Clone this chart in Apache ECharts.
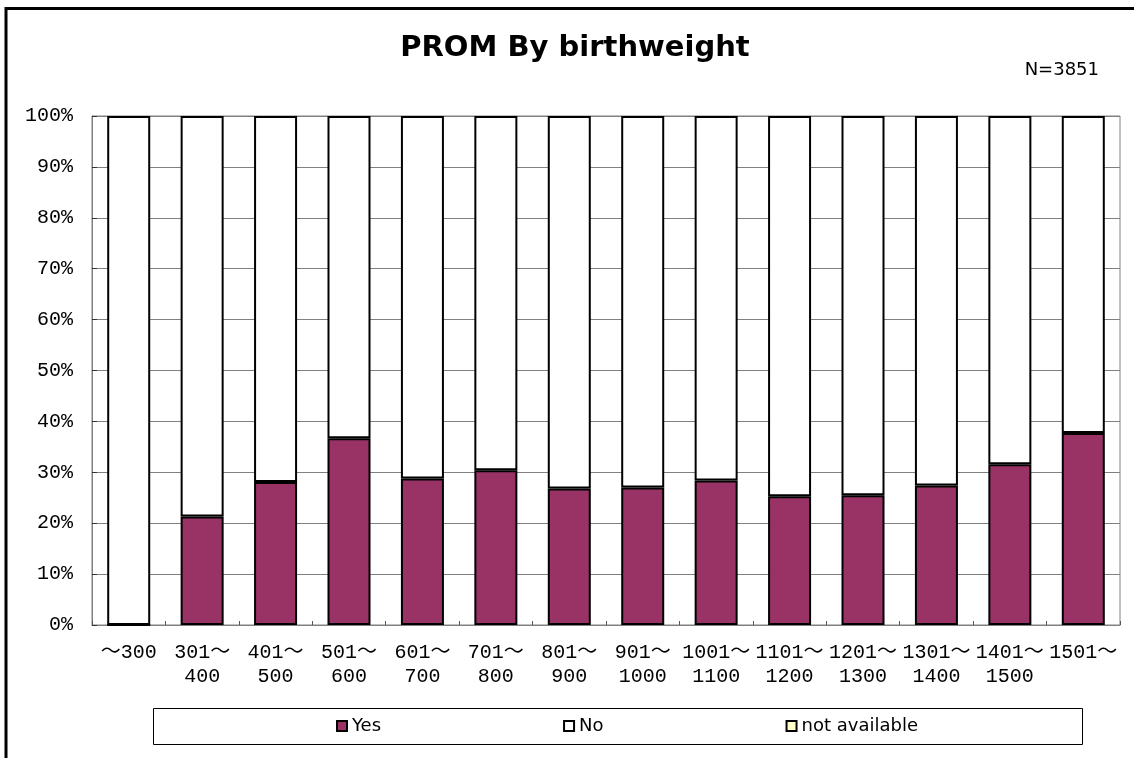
<!DOCTYPE html>
<html>
<head>
<meta charset="utf-8">
<script src="https://cdn.jsdelivr.net/npm/echarts@6/dist/echarts.min.js"></script>
<style>
html,body{margin:0;padding:0;background:#fff;}
#chart{width:1134px;height:758px;}
</style>
</head>
<body>
<div id="chart"></div>
<script>
const categories = ['～300','301～\n400','401～\n500','501～\n600','601～\n700','701～\n800','801～\n900','901～\n1000','1001～\n1100','1101～\n1200','1201～\n1300','1301～\n1400','1401～\n1500','1501～'];
const yesValues = [0, 21.3, 28.1, 36.7, 28.8, 30.4, 26.8, 27.0, 28.4, 25.3, 25.5, 27.4, 31.6, 37.7];
const noValues = [100, 78.7, 71.9, 63.3, 71.2, 69.6, 73.2, 73.0, 71.6, 74.7, 74.5, 72.6, 68.4, 62.3];
const naValues = [0, 0, 0, 0, 0, 0, 0, 0, 0, 0, 0, 0, 0, 0];
const seriesNames = ['Yes', 'No', 'not available'];
const titleText = 'PROM By birthweight';
const noteText = 'N=3851';

const chart = echarts.init(document.getElementById('chart'), null, {renderer: 'canvas'});
const monoFont = "'Liberation Mono', 'Noto Sans CJK JP', monospace";
const barStyle = (color, bw) => ({color: color, borderColor: '#000', borderWidth: bw});

chart.setOption({
  backgroundColor: '#fff',
  animation: false,
  graphic: [
    {type: 'rect', shape: {x: 6, y: 8.5, width: 1200, height: 800}, style: {fill: 'none', stroke: '#000', lineWidth: 3}, silent: true},
    {type: 'text', x: 575, y: 48, style: {text: titleText, font: "bold 29px 'DejaVu Sans'", fill: '#000', textAlign: 'center', textVerticalAlign: 'middle'}},
    {type: 'text', x: 1099, y: 70, style: {text: noteText, font: "18px 'DejaVu Sans'", fill: '#000', textAlign: 'right', textVerticalAlign: 'middle'}},
    {type: 'rect', shape: {x: 153.5, y: 708.5, width: 929, height: 36}, style: {fill: 'none', stroke: '#000', lineWidth: 1}, silent: true, z: -1}
  ],
  legend: {
    left: 336,
    top: 717,
    padding: 0,
    itemGap: 182,
    itemWidth: 10,
    itemHeight: 10,
    icon: 'rect',
    data: seriesNames,
    itemStyle: {borderColor: '#000', borderWidth: 2},
    textStyle: {fontFamily: 'DejaVu Sans', fontSize: 18, color: '#000'}
  },
  grid: {left: 92, top: 116, right: 14, bottom: 133, show: true, borderColor: '#808080', borderWidth: 1, backgroundColor: 'transparent'},
  xAxis: {
    type: 'category',
    data: categories,
    axisLine: {lineStyle: {color: '#808080', width: 1}},
    axisTick: {show: true, inside: true, length: 4, lineStyle: {color: '#555'}},
    axisLabel: {interval: 0, margin: 16, fontFamily: monoFont, fontSize: 20, lineHeight: 24, color: '#000'},
    splitLine: {show: false}
  },
  yAxis: {
    type: 'value',
    min: 0,
    max: 100,
    interval: 10,
    axisLine: {show: true, lineStyle: {color: '#808080', width: 1}},
    axisTick: {show: true, inside: true, length: 5, lineStyle: {color: '#333'}},
    axisLabel: {formatter: '{value}%', margin: 19, fontFamily: monoFont, fontSize: 20, color: '#000'},
    splitLine: {show: true, lineStyle: {color: '#808080', width: 1}}
  },
  series: [
    {name: seriesNames[0], type: 'bar', stack: 'total', barWidth: 43, data: yesValues, itemStyle: barStyle('#993366', 2)},
    {name: seriesNames[1], type: 'bar', stack: 'total', barWidth: 43, data: noValues, itemStyle: barStyle('#ffffff', 2)},
    {name: seriesNames[2], type: 'bar', stack: 'total', barWidth: 43, data: naValues, itemStyle: barStyle('#ffffcc', 0)}
  ]
});
</script>
</body>
</html>
